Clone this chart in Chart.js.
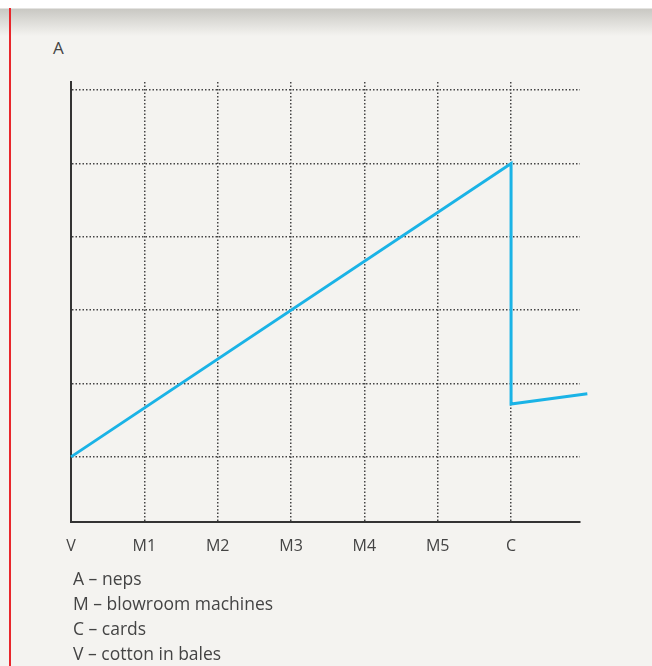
<!DOCTYPE html>
<html>
<head>
<meta charset="utf-8">
<script src="https://cdn.jsdelivr.net/npm/chart.js@4/dist/chart.umd.min.js"></script>
<style>
  html, body { margin: 0; padding: 0; }
  body {
    width: 652px; height: 666px; position: relative; overflow: hidden;
    background: #f4f3f0;
    font-family: "Open Sans", sans-serif;
    color: #444;
  }
  #topband {
    position: absolute; left: 0; top: 0; width: 652px; height: 36px;
    background: linear-gradient(#ffffff 0px, #ffffff 8px, #c9c8c3 9px, #f4f3f0 36px);
  }
  #redline { position: absolute; left: 9px; top: 8px; width: 2px; height: 660px; background: #e8262b; }
  #wrap { position: absolute; left: 0; top: 0; width: 652px; height: 573px; }
  #title { position: absolute; left: 53px; top: 36px; font-size: 17px; }
  #notes { position: absolute; left: 73px; top: 566px; font-size: 17.5px; line-height: 25px; }
</style>
</head>
<body>
<div id="topband"></div>
<div id="redline"></div>
<div id="title">A</div>
<div id="wrap"><canvas id="nepsChart"></canvas></div>
<div id="notes">
  <div>A – neps</div>
  <div>M – blowroom machines</div>
  <div>C – cards</div>
  <div>V – cotton in bales</div>
</div>
<script>
const stageLabels = ["V", "M1", "M2", "M3", "M4", "M5", "C"];
const stagePos = [0, 6, 6, 7.04];
const nepsLevel = [0, 4, 0.72, 0.86];
const gridLevels = [0, 1, 2, 3, 4, 5];

const ctx = document.getElementById('nepsChart').getContext('2d');

const nepsChart = new Chart(ctx, {
    type: "scatter",
    data: {
        datasets: [
            {
                label: "Neps",
                data: stagePos.map((x, i) => ({ x: x, y: nepsLevel[i] })),
                showLine: true,
                borderColor: "#1ab3e6",
                borderWidth: 3,
                pointRadius: 0,
                tension: 0,
                clip: false
            }
        ]
    },
    options: {
        responsive: true,
        maintainAspectRatio: false,
        animation: false,
        layout: {
            padding: { left: 71, top: 82, right: 72, bottom: 2 }
        },
        scales: {
            x: {
                type: "linear",
                min: 0,
                max: 6.94,
                afterBuildTicks: (axis) => {
                    axis.ticks = stageLabels.map((l, i) => ({ value: i }));
                },
                ticks: {
                    callback: (v) => stageLabels[v],
                    color: "#444",
                    font: { family: "Open Sans", size: 16 },
                    padding: 15,
                    maxRotation: 0
                },
                grid: {
                    color: "#444",
                    lineWidth: 1.5,
                    drawTicks: false
                },
                border: { display: true, color: "#333", width: 2, dash: [1.5, 2] }
            },
            y: {
                min: -0.885,
                max: 5.11,
                afterBuildTicks: (axis) => {
                    axis.ticks = gridLevels.map(v => ({ value: v }));
                },
                ticks: { display: false },
                grid: {
                    color: "#444",
                    lineWidth: 1.5,
                    drawTicks: false
                },
                border: { display: true, color: "#333", width: 2, dash: [1.5, 2] }
            }
        },
        plugins: {
            legend: { display: false },
            tooltip: { enabled: false }
        }
    }
});
</script>
</body>
</html>
